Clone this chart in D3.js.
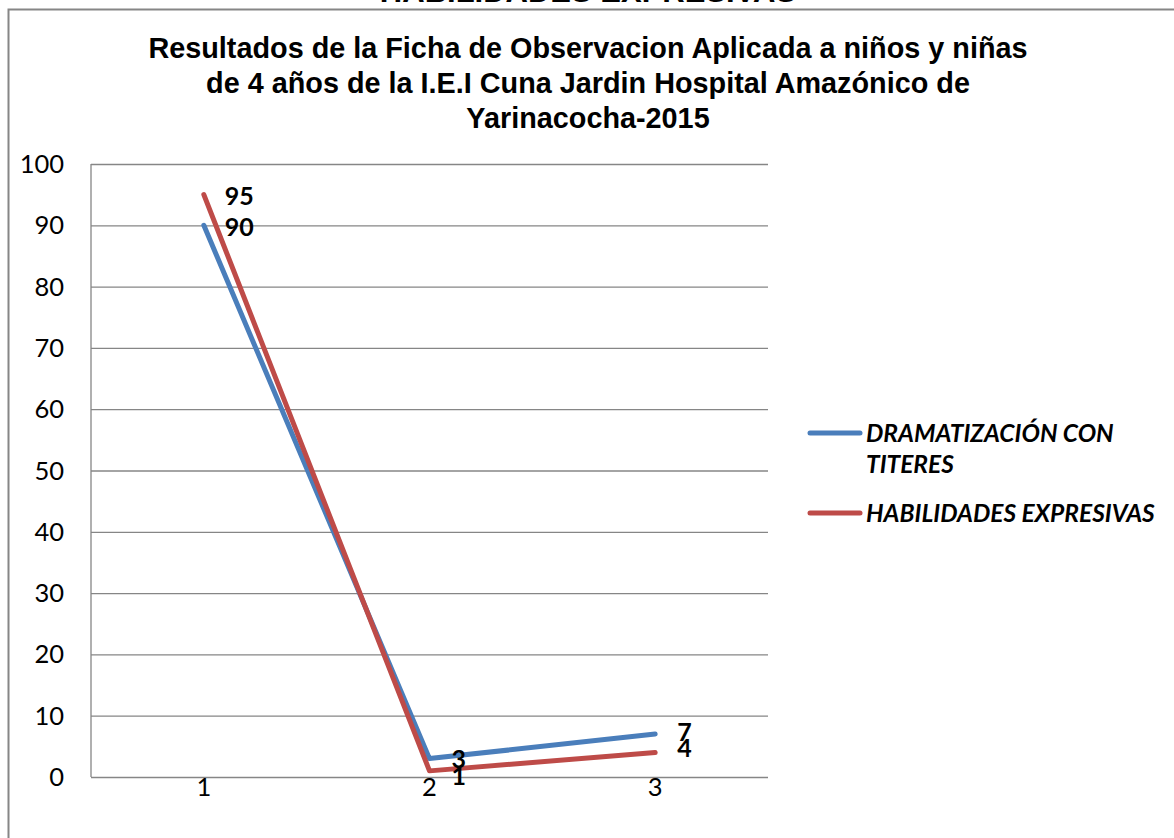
<!DOCTYPE html>
<html><head><meta charset="utf-8">
<script src="https://cdn.jsdelivr.net/npm/d3@7"></script>
<style>body{margin:0;background:#fff}svg{display:block}</style>
</head><body>
<svg id="c" width="1174" height="838"></svg>
<script>
const categories = ["1", "2", "3"];
const dramatizacion = [90, 3, 7];
const habilidades = [95, 1, 4];
const seriesNames = ["DRAMATIZACIÓN CON TITERES", "HABILIDADES EXPRESIVAS"];
const yTicks = [0, 10, 20, 30, 40, 50, 60, 70, 80, 90, 100];
const titleLines = ["Resultados de la Ficha de Observacion Aplicada a niños y niñas",
  "de 4 años de la I.E.I Cuna Jardin Hospital Amazónico de", "Yarinacocha-2015"];
const topCutTitle = "HABILIDADES EXPRESIVAS";

const svg = d3.select("#c");
const numFont = "Lato, 'Open Sans', sans-serif";
const colors = ["#4a7ebb", "#be4b48"];

// cut-off heading at very top
svg.append("text").attr("x", 588).attr("y", 1.5).attr("text-anchor", "middle")
  .attr("font-family", "Liberation Sans, Arial, sans-serif").attr("font-weight", "bold")
  .attr("font-size", 31).text(topCutTitle);

// chart frame
svg.append("path").attr("d", "M8.5,845 V9.5 H1180").attr("fill", "none")
  .attr("stroke", "#868686").attr("stroke-width", 2);

// title
svg.append("g").selectAll("text").data(titleLines).join("text")
  .attr("x", 588).attr("y", (d, i) => 58 + i * 35).attr("text-anchor", "middle")
  .attr("font-family", "Liberation Sans, Arial, sans-serif").attr("font-weight", "bold")
  .attr("font-size", 28.8).text(d => d);

const x = d3.scaleBand().domain(categories).range([91, 768]);
const y = d3.scaleLinear().domain([0, 100]).range([777, 164]);

// gridlines
svg.append("g").attr("transform", "translate(91,0)")
  .call(d3.axisLeft(y).tickValues(yTicks).tickSize(-677).tickFormat(""))
  .call(g => g.select(".domain").remove())
  .call(g => g.selectAll("line").attr("stroke", "#868686").attr("stroke-width", 1.3));
svg.append("line").attr("x1", 91).attr("x2", 91).attr("y1", 164).attr("y2", 777)
  .attr("stroke", "#868686").attr("stroke-width", 1.3);

// y tick labels
svg.append("g").selectAll("text").data(yTicks).join("text")
  .attr("x", 64).attr("y", d => y(d) + 9).attr("text-anchor", "end")
  .attr("font-family", numFont).attr("font-size", 25.5).text(d => d);

// x labels
svg.append("g").selectAll("text").data(categories).join("text")
  .attr("x", d => x(d) + x.bandwidth() / 2).attr("y", 796).attr("text-anchor", "middle")
  .attr("font-family", numFont).attr("font-size", 25.5).text(d => d);

const line = d3.line().x((d, i) => x(categories[i]) + x.bandwidth() / 2).y(d => y(d));
[dramatizacion, habilidades].forEach((s, k) => {
  svg.append("path").datum(s).attr("d", line).attr("fill", "none")
    .attr("stroke", colors[k]).attr("stroke-width", 5).attr("stroke-linecap", "round")
    .attr("stroke-linejoin", "round");
});

// data labels
const lblOff = [[{dx: 21, dy: 11}, {dx: 22, dy: 9}, {dx: 22, dy: 7}],
                [{dx: 21, dy: 10}, {dx: 22, dy: 14}, {dx: 22, dy: 5}]];
[dramatizacion, habilidades].forEach((s, k) => {
  svg.append("g").selectAll("text").data(s).join("text")
    .attr("x", (d, i) => x(categories[i]) + x.bandwidth() / 2 + lblOff[k][i].dx)
    .attr("y", (d, i) => y(d) + lblOff[k][i].dy)
    .attr("font-family", numFont).attr("font-weight", "bold").attr("font-size", 25)
    .text(d => d);
});

// legend
const legendRows = [["DRAMATIZACIÓN CON", "TITERES"], ["HABILIDADES EXPRESIVAS"]];
const legY = [433, 513];
legendRows.forEach((rows, k) => {
  svg.append("line").attr("x1", 810).attr("x2", 860).attr("y1", legY[k]).attr("y2", legY[k])
    .attr("stroke", colors[k]).attr("stroke-width", 5).attr("stroke-linecap", "round");
  rows.forEach((t, j) => {
    svg.append("text").attr("x", 866).attr("y", legY[k] + 9 + j * 31)
      .attr("font-family", numFont).attr("font-weight", "bold").attr("font-style", "italic")
      .attr("font-size", 24.5).text(t);
  });
});
</script>
</body></html>
